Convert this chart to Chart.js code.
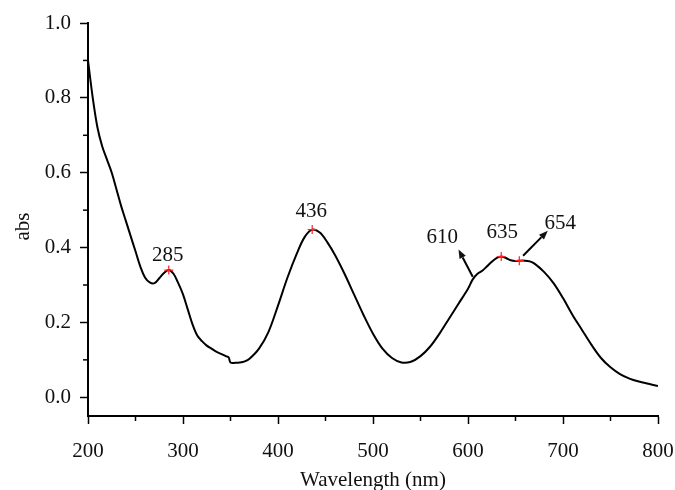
<!DOCTYPE html>
<html>
<head>
<meta charset="utf-8">
<script src="https://cdn.jsdelivr.net/npm/chart.js@4.4.1/dist/chart.umd.min.js"></script>
<style>
  html, body { margin: 0; padding: 0; background: #fff; }
  #wrap { width: 675px; height: 490px; }
</style>
</head>
<body>
<div id="wrap"><canvas id="spectrum"></canvas></div>
<script>
// absorption spectrum
const wavelength = [200, 205, 210, 215, 220, 225, 230, 235, 240, 245, 250, 255, 260, 265, 270, 275, 280, 285, 290, 295,
  300, 305, 310, 315, 320, 325, 330, 335, 340, 345, 348, 350, 355, 360, 365, 370, 380, 390, 400, 410,
  420, 428, 436, 444, 452, 460, 470, 480, 490, 500, 510, 520, 530, 540, 550, 560, 570, 580, 590, 600,
  605, 610, 615, 620, 625, 630, 635, 640, 645, 650, 654, 660, 665, 670, 680, 690, 700, 710, 720, 730,
  740, 750, 760, 770, 780, 790, 800];
const absorbance = [0.90, 0.80, 0.72, 0.67, 0.635, 0.60, 0.555, 0.51, 0.47, 0.43, 0.39, 0.35, 0.32, 0.307, 0.305, 0.318, 0.332, 0.340, 0.330, 0.305,
  0.275, 0.235, 0.195, 0.165, 0.150, 0.138, 0.130, 0.122, 0.116, 0.110, 0.107, 0.093, 0.092, 0.093, 0.096, 0.103, 0.130, 0.175, 0.245, 0.320,
  0.385, 0.428, 0.448, 0.440, 0.414, 0.380, 0.330, 0.275, 0.220, 0.170, 0.130, 0.105, 0.093, 0.095, 0.110, 0.135, 0.170, 0.210, 0.250, 0.290,
  0.315, 0.330, 0.338, 0.350, 0.362, 0.372, 0.376, 0.372, 0.366, 0.364, 0.365, 0.365, 0.363, 0.357, 0.335, 0.305, 0.265, 0.220, 0.180, 0.140,
  0.105, 0.080, 0.062, 0.050, 0.042, 0.036, 0.030];

// marked peaks (red crosses)
const peakNm = [285, 436, 635, 654];
const peakAbs = [0.340, 0.448, 0.376, 0.365];

// peak labels
const labelText = ['285', '436', '610', '635', '654'];
const labelNm = [284, 435, 573, 636, 697];
const labelAbs = [0.379, 0.496, 0.427, 0.440, 0.464];

// arrows [from nm, from abs, to nm, to abs]
const arrows = [
  [605, 0.322, 590, 0.395],
  [658, 0.378, 684, 0.445]
];

const xTicks = [200, 300, 400, 500, 600, 700, 800];
const xMinor = [250, 350, 450, 550, 650, 750];
const yTicks = [0.0, 0.2, 0.4, 0.6, 0.8, 1.0];
const yMinor = [0.1, 0.3, 0.5, 0.7, 0.9];

const serif = '"Liberation Serif", "DejaVu Serif", serif';

const annotate = {
  id: 'annotate',
  afterDatasetsDraw(chart) {
    const c = chart.ctx;
    const xs = chart.scales.x, ys = chart.scales.y;
    c.save();
    // minor ticks
    c.strokeStyle = '#000';
    c.lineWidth = 1.5;
    xMinor.forEach(v => {
      const px = xs.getPixelForValue(v);
      c.beginPath(); c.moveTo(px, ys.bottom); c.lineTo(px, ys.bottom + 5); c.stroke();
    });
    yMinor.forEach(v => {
      const py = ys.getPixelForValue(v);
      c.beginPath(); c.moveTo(xs.left, py); c.lineTo(xs.left - 5, py); c.stroke();
    });
    // y axis title
    c.fillStyle = '#111';
    c.font = '21px ' + serif;
    c.textAlign = 'center';
    c.textBaseline = 'middle';
    c.save();
    c.translate(23, (ys.top + ys.bottom) / 2 + 7);
    c.rotate(-Math.PI / 2);
    c.fillText('abs', 0, 0);
    c.restore();
    // labels
    labelText.forEach((t, i) => {
      c.fillText(t, xs.getPixelForValue(labelNm[i]), ys.getPixelForValue(labelAbs[i]));
    });
    // arrows
    c.lineWidth = 2;
    arrows.forEach(a => {
      const x1 = xs.getPixelForValue(a[0]), y1 = ys.getPixelForValue(a[1]);
      const x2 = xs.getPixelForValue(a[2]), y2 = ys.getPixelForValue(a[3]);
      const ang = Math.atan2(y2 - y1, x2 - x1);
      const hl = 9, hw = 3.5;
      const bx = x2 - hl * Math.cos(ang), by = y2 - hl * Math.sin(ang);
      c.beginPath(); c.moveTo(x1, y1); c.lineTo(bx, by); c.stroke();
      c.beginPath();
      c.moveTo(x2, y2);
      c.lineTo(bx + hw * Math.sin(ang), by - hw * Math.cos(ang));
      c.lineTo(bx - hw * Math.sin(ang), by + hw * Math.cos(ang));
      c.closePath();
      c.fill();
    });
    c.restore();
  }
};

const ctx = document.getElementById('spectrum').getContext('2d');
const chart = new Chart(ctx, {
  type: 'line',
  data: {
    datasets: [{
      label: 'abs',
      data: wavelength.map((w, i) => ({ x: w, y: absorbance[i] })),
      borderColor: '#000',
      borderWidth: 2,
      pointRadius: 0,
      tension: 0.35,
      fill: false,
      order: 2
    }, {
      type: 'scatter',
      label: 'peaks',
      data: peakNm.map((w, i) => ({ x: w, y: peakAbs[i] })),
      pointStyle: 'cross',
      pointRadius: 4.5,
      borderColor: '#ff2020',
      borderWidth: 1.2,
      order: 1
    }]
  },
  options: {
    responsive: true,
    maintainAspectRatio: false,
    animation: false,
    layout: { padding: { top: 23, right: 17, left: 0, bottom: 0 } },
    plugins: {
      legend: { display: false },
      tooltip: { enabled: false }
    },
    scales: {
      x: {
        type: 'linear',
        min: 200,
        max: 800,
        afterBuildTicks: s => { s.ticks = xTicks.map(v => ({ value: v })); },
        afterFit: s => { s.height = 74; s.paddingLeft = 0; s.paddingRight = 0; },
        border: { display: true, color: '#000', width: 2 },
        grid: { drawOnChartArea: false, drawTicks: true, tickLength: 8, tickWidth: 1.5, tickColor: '#000' },
        ticks: { color: '#111', font: { family: serif, size: 21 }, padding: 15, maxRotation: 0 },
        title: { display: true, text: 'Wavelength (nm)', color: '#111', font: { family: serif, size: 21, lineHeight: 0.9 }, padding: { top: 0, bottom: 0 } }
      },
      y: {
        min: -0.05,
        max: 1.0,
        afterBuildTicks: s => { s.ticks = yTicks.map(v => ({ value: v })); },
        afterFit: s => { s.width = 88; s.paddingTop = 0; s.paddingBottom = 0; },
        border: { display: true, color: '#000', width: 2 },
        grid: { drawOnChartArea: false, drawTicks: true, tickLength: 8, tickWidth: 1.5, tickColor: '#000' },
        ticks: { color: '#111', font: { family: serif, size: 21 }, padding: 9, callback: v => v.toFixed(1) }
      }
    }
  },
  plugins: [annotate]
});
</script>
</body>
</html>
